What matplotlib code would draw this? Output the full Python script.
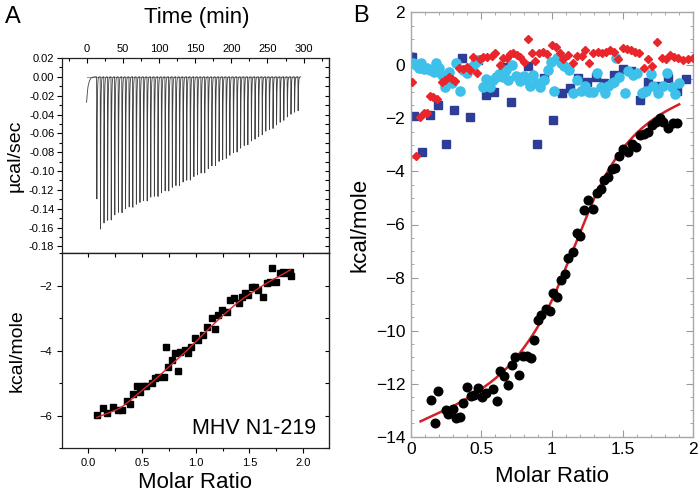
import numpy as np
import matplotlib
matplotlib.use("Agg")
import matplotlib.pyplot as plt
from matplotlib.ticker import MultipleLocator, FormatStrFormatter

plt.rcParams['font.family'] = ['Liberation Sans', 'DejaVu Sans']

# ---------------- Panel A (top): raw ITC trace ----------------
pre_t = [0, 1, 2, 4, 6, 8, 11, 13.5]
pre_y = [-0.027, -0.017, -0.010, -0.004, -0.0015, -0.0005, 0.0, 0.0]

inj_time = [13.8, 18.8, 23.7, 28.7, 33.7, 38.6, 43.6, 48.6, 53.5, 58.5, 63.5, 68.4,
            73.4, 78.4, 83.4, 88.3, 93.3, 98.3, 103.2, 108.2, 113.2, 118.1, 123.1,
            128.1, 133.0, 138.0, 143.0, 147.9, 152.9, 157.9, 162.9, 167.8, 172.8,
            177.8, 182.7, 187.7, 192.7, 197.6, 202.6, 207.6, 212.5, 217.5, 222.5,
            227.4, 232.4, 237.4, 242.4, 247.3, 252.3, 257.3, 262.2, 267.2, 272.2,
            277.1, 282.1, 287.1, 292.0]
inj_depth = [-0.137, -0.168, -0.164, -0.161, -0.158, -0.155, -0.152, -0.150, -0.148,
             -0.146, -0.144, -0.143, -0.141, -0.139, -0.137, -0.135, -0.134, -0.132,
             -0.130, -0.128, -0.126, -0.124, -0.122, -0.120, -0.118, -0.116, -0.114,
             -0.112, -0.110, -0.108, -0.106, -0.103, -0.100, -0.098, -0.095, -0.093,
             -0.090, -0.088, -0.085, -0.083, -0.080, -0.077, -0.075, -0.072, -0.070,
             -0.067, -0.064, -0.061, -0.059, -0.057, -0.054, -0.051, -0.048, -0.045,
             -0.042, -0.039, -0.036]

# ---------------- Panel A (bottom): integrated heats ----------------
a_ratio = [0.084, 0.14, 0.17, 0.23, 0.28, 0.31, 0.36, 0.39, 0.42, 0.45, 0.48, 0.51,
           0.54, 0.59, 0.62, 0.65, 0.70, 0.72, 0.74, 0.78, 0.81, 0.83, 0.85, 0.90,
           0.93, 0.96, 0.99, 1.02, 1.07, 1.10, 1.15, 1.18, 1.21, 1.24, 1.29, 1.32,
           1.36, 1.40, 1.43, 1.46, 1.49, 1.52, 1.55, 1.58, 1.63, 1.66, 1.69, 1.71,
           1.75, 1.78, 1.81, 1.84, 1.88, 1.89]
a_heat = [-5.97, -5.77, -5.92, -5.72, -5.82, -5.82, -5.56, -5.64, -5.33, -5.10, -5.26,
          -5.10, -5.10, -5.00, -4.85, -4.80, -4.80, -3.88, -4.49, -4.29, -4.08, -4.62,
          -4.03, -3.98, -4.08, -3.88, -3.62, -3.67, -3.52, -3.26, -3.01, -3.34, -2.91,
          -2.75, -2.80, -2.44, -2.39, -2.54, -2.34, -2.24, -2.29, -2.03, -2.03, -2.13,
          -2.34, -1.93, -1.88, -1.47, -1.88, -1.62, -1.57, -1.62, -1.57, -1.72]
a_fit_x = [0.08, 0.2, 0.3, 0.4, 0.5, 0.6, 0.7, 0.8, 0.9, 1.0, 1.1, 1.2, 1.3, 1.4,
           1.5, 1.6, 1.7, 1.8, 1.88]
a_fit_y = [-6.05, -5.9, -5.75, -5.5, -5.22, -4.95, -4.65, -4.35, -4.05, -3.72, -3.4,
           -3.08, -2.78, -2.5, -2.27, -2.05, -1.85, -1.67, -1.52]

# ---------------- Panel B ----------------
b_black_x = [0.144, 0.172, 0.196, 0.25, 0.267, 0.297, 0.32, 0.35, 0.373, 0.40, 0.427,
             0.45, 0.479, 0.502, 0.533, 0.585, 0.608, 0.632, 0.66, 0.686, 0.715, 0.738,
             0.769, 0.792, 0.821, 0.849, 0.875, 0.899, 0.922, 0.955, 0.986, 1.009,
             1.038, 1.064, 1.092, 1.116, 1.146, 1.175, 1.198, 1.229, 1.257, 1.288,
             1.316, 1.344, 1.370, 1.399, 1.422, 1.446, 1.476, 1.505, 1.535, 1.564,
             1.594, 1.623, 1.651, 1.677, 1.705, 1.733, 1.764, 1.788, 1.823, 1.854,
             1.887]
b_black_y = [-12.60, -13.48, -12.28, -13.0, -13.13, -12.94, -13.29, -13.25, -12.72,
             -12.12, -12.46, -12.43, -12.18, -12.50, -12.35, -12.22, -12.66, -11.53,
             -11.72, -12.06, -11.30, -10.99, -11.66, -10.96, -10.96, -11.02, -10.34,
             -9.61, -9.42, -9.17, -9.26, -8.60, -8.75, -8.10, -7.85, -7.28, -7.03,
             -6.31, -6.42, -5.44, -5.09, -5.40, -4.81, -4.65, -4.33, -4.21, -3.89,
             -3.87, -3.43, -3.16, -3.26, -2.95, -3.07, -2.63, -2.57, -2.51, -2.25,
             -2.13, -2.00, -2.13, -2.38, -2.19, -2.19]
b_fit_x = [0.07, 0.2, 0.3, 0.4, 0.5, 0.6, 0.7, 0.8, 0.9, 1.0, 1.1, 1.2, 1.3, 1.4,
           1.5, 1.6, 1.7, 1.8, 1.9]
b_fit_y = [-13.42, -13.1, -12.85, -12.55, -12.2, -11.8, -11.3, -10.65, -9.85, -8.85,
           -7.6, -6.3, -5.0, -3.95, -3.15, -2.55, -2.1, -1.75, -1.47]

b_red_x = [0.012, 0.038, 0.066, 0.097, 0.118, 0.137, 0.16, 0.184, 0.219, 0.243, 0.27,
           0.29, 0.31, 0.344, 0.368, 0.396, 0.42, 0.443, 0.467, 0.49, 0.514, 0.538,
           0.573, 0.597, 0.632, 0.656, 0.679, 0.703, 0.726, 0.75, 0.774, 0.804, 0.833,
           0.856, 0.88, 0.908, 0.934, 0.962, 0.998, 1.028, 1.057, 1.08, 1.116, 1.151,
           1.175, 1.21, 1.233, 1.264, 1.292, 1.323, 1.351, 1.38, 1.41, 1.441, 1.469,
           1.5, 1.528, 1.557, 1.587, 1.616, 1.651, 1.682, 1.71, 1.745, 1.776, 1.807,
           1.835, 1.863, 1.894, 1.929, 1.965, 1.995]
b_red_y = [-0.64, -3.43, -1.96, -1.81, -1.79, -1.15, -1.21, -1.28, -0.62, -0.55, -0.45,
           -0.52, -0.58, -0.11, -0.15, -0.05, -0.18, 0.33, -0.30, 0.23, 0.30, 0.33,
           0.35, 0.45, 0.01, 0.26, 0.29, 0.42, 0.48, 0.39, 0.30, 0.14, 0.98, 0.45,
           0.16, 0.45, 0.52, 0.42, 0.77, 0.71, 0.48, 0.23, 0.39, 0.08, 0.35, 0.35,
           0.58, 0.10, 0.45, 0.52, 0.45, 0.52, 0.58, 0.52, 0.23, 0.64, 0.60, 0.58,
           0.52, 0.45, -0.11, 0.23, -0.03, 0.89, 0.26, 0.24, 0.39, 0.30, 0.26, 0.20,
           0.24, 0.26]

b_cyan_x = [0.019, 0.038, 0.059, 0.075, 0.094, 0.118, 0.137, 0.165, 0.179, 0.203,
            0.219, 0.243, 0.27, 0.29, 0.321, 0.349, 0.373, 0.401, 0.432, 0.455, 0.479,
            0.509, 0.533, 0.561, 0.58, 0.604, 0.627, 0.651, 0.675, 0.691, 0.715, 0.745,
            0.774, 0.802, 0.821, 0.844, 0.868, 0.892, 0.915, 0.943, 0.974, 0.991, 1.017,
            1.038, 1.061, 1.085, 1.123, 1.151, 1.179, 1.203, 1.233, 1.264, 1.292, 1.316,
            1.344, 1.375, 1.399, 1.422, 1.439, 1.453, 1.476, 1.517, 1.54, 1.571, 1.599,
            1.634, 1.651, 1.665, 1.698, 1.717, 1.752, 1.783, 1.816, 1.847, 1.87, 1.901]
b_cyan_y = [0.10, 0.01, -0.09, 0.08, -0.15, -0.11, -0.18, -0.24, 0.08, -0.11, -0.37,
            -0.83, -0.24, -0.65, 0.10, -0.96, -0.18, -0.28, -0.05, 0.10, 0.20, -0.83,
            -0.52, -0.83, -0.55, -0.43, -0.33, -0.43, -0.18, -0.55, 0.01, -0.40, -0.59,
            -0.40, -0.55, -0.78, -0.37, -0.68, -0.81, -0.55, -0.18, 0.14, -0.96, 0.26,
            0.10, -0.03, -0.18, -1.06, -0.55, -0.96, -0.78, -0.99, -0.99, -0.30, -0.81,
            -1.06, -0.78, -0.68, -0.62, 0.26, -0.43, -1.06, -0.20, -0.37, -0.30, -1.06,
            -0.99, -0.96, -0.33, -0.78, -1.06, -0.78, -0.30, -0.81, -1.08, -0.68]

b_navy_x = [0.007, 0.026, 0.083, 0.137, 0.191, 0.25, 0.307, 0.366, 0.42, 0.479, 0.533,
            0.59, 0.656, 0.71, 0.774, 0.833, 0.892, 0.946, 1.009, 1.068, 1.127, 1.186,
            1.25, 1.311, 1.37, 1.439, 1.5, 1.559, 1.623, 1.682, 1.752, 1.823, 1.882,
            1.948]
b_navy_y = [0.33, -1.90, -3.26, -1.88, -1.50, -2.98, -1.69, 0.26, -1.94, 0.20, -1.12,
            -0.99, -0.05, -1.37, -0.43, -0.03, -2.95, -0.49, -2.07, -1.06, -0.87, -0.49,
            -0.62, -0.43, -0.68, -0.37, -0.15, -0.20, -1.31, -0.62, -0.78, -0.47, -0.96,
            -0.52]


def smooth_curve(xs, ys, n=12):
    """Catmull-Rom spline through the read-off curve points (drawing only)."""
    p = np.column_stack([xs, ys]).astype(float)
    p = np.vstack([2 * p[0] - p[1], p, 2 * p[-1] - p[-2]])
    out = []
    s = np.linspace(0, 1, n, endpoint=False)[:, None]
    for i in range(1, len(p) - 2):
        p0, p1, p2, p3 = p[i - 1], p[i], p[i + 1], p[i + 2]
        seg = 0.5 * ((2 * p1) + (-p0 + p2) * s + (2 * p0 - 5 * p1 + 4 * p2 - p3) * s ** 2
                     + (-p0 + 3 * p1 - 3 * p2 + p3) * s ** 3)
        out.append(seg)
    out.append(p[-2][None, :])
    out = np.vstack(out)
    return out[:, 0], out[:, 1]


# ---------------- Figure ----------------
W, H = 700, 493
fig = plt.figure(figsize=(W / 100, H / 100), dpi=100)

def box(l, t, r, b):
    return [l / W, 1 - b / H, (r - l) / W, (b - t) / H]

axA1 = fig.add_axes(box(62, 58, 329, 253))
axA2 = fig.add_axes(box(62, 253, 329, 448.3))
axB = fig.add_axes(box(410.7, 12.3, 693.3, 436.7))

# --- trace construction (peak shapes from the listed injections) ---
segs_t = [np.array(pre_t, float)]
segs_y = [np.array(pre_y, float)]
for k, (t0, d) in enumerate(zip(inj_time, inj_depth)):
    t_end = inj_time[k + 1] if k + 1 < len(inj_time) else t0 + 4.0
    tt = np.linspace(t0, t_end, 80, endpoint=False)
    dt = tt - t0
    rise = np.clip(dt / 0.35, 0, 1)
    decay = np.exp(-np.clip(dt - 0.35, 0, None) / 0.45)
    segs_t.append(tt)
    segs_y.append(d * rise * decay)
trace_t = np.concatenate(segs_t)
trace_y = np.concatenate(segs_y)

axA1.plot([0, 293], [0, 0], color='#9a9a9a', lw=0.8, zorder=1)
axA1.plot(trace_t, trace_y, color='#404040', lw=0.6, zorder=2)
axA1.set_xlim(-34, 335)
axA1.set_ylim(-0.187, 0.02)

axA1.xaxis.tick_top()
axA1.xaxis.set_major_locator(MultipleLocator(50))
axA1.xaxis.set_minor_locator(MultipleLocator(25))
axA1.yaxis.set_major_locator(MultipleLocator(0.02))
axA1.yaxis.set_minor_locator(MultipleLocator(0.01))
axA1.yaxis.set_major_formatter(FormatStrFormatter('%.2f'))
axA1.tick_params(axis='x', which='both', direction='in', top=True, bottom=False,
                 labeltop=True, labelbottom=False, labelsize=8, pad=3)
axA1.tick_params(axis='y', which='both', direction='out', left=True, right=False,
                 labelsize=8, pad=2)
axA1.tick_params(which='major', length=3.5, width=0.8)
axA1.tick_params(which='minor', length=2, width=0.8)
secA1 = axA1.secondary_yaxis('right')
secA1.yaxis.set_major_locator(MultipleLocator(0.01))
secA1.tick_params(direction='in', length=3, width=0.8, labelright=False)
axA1.set_ylabel('µcal/sec', fontsize=14, labelpad=4)
fig.text(197 / W, 1 - 18 / H, 'Time (min)', fontsize=16, ha='center', va='center')

fx, fy = smooth_curve(a_fit_x, a_fit_y)
axA2.plot(fx, fy, color='#d9262b', lw=1.0, zorder=3)
axA2.plot(a_ratio, a_heat, 's', color='black', ms=4.8, zorder=2)
axA2.set_xlim(-0.245, 2.24)
axA2.set_ylim(-7, -1)
axA2.xaxis.set_major_locator(MultipleLocator(0.5))
axA2.xaxis.set_minor_locator(MultipleLocator(0.25))
axA2.xaxis.set_major_formatter(FormatStrFormatter('%.1f'))
axA2.yaxis.set_major_locator(MultipleLocator(2))
axA2.yaxis.set_minor_locator(MultipleLocator(1))
axA2.tick_params(axis='both', which='both', direction='out', labelsize=8)
axA2.tick_params(which='major', length=3.5, width=0.8)
axA2.tick_params(which='minor', length=2, width=0.8)
secA2x = axA2.secondary_xaxis('top')
secA2x.xaxis.set_major_locator(MultipleLocator(0.25))
secA2x.tick_params(direction='in', length=3, width=0.8, labeltop=False)
secA2y = axA2.secondary_yaxis('right')
secA2y.yaxis.set_major_locator(MultipleLocator(1))
secA2y.tick_params(direction='in', length=3, width=0.8, labelright=False)
axA2.set_ylabel('kcal/mole', fontsize=14, labelpad=10)
axA2.set_xlabel('Molar Ratio', fontsize=16, labelpad=3)
axA2.text(0.95, 0.1, 'MHV N1-219', transform=axA2.transAxes, fontsize=15.5,
          ha='right', va='center')

for ax in (axA1, axA2):
    for s in ax.spines.values():
        s.set_linewidth(0.9)
        s.set_color('#222222')

# --- Panel B ---
axB.plot(b_red_x, b_red_y, 'D', color='#e8262b', ms=4.4, zorder=3)
axB.plot(b_navy_x, b_navy_y, 's', color='#2e3d96', ms=5.3, zorder=2)
axB.plot(b_cyan_x, b_cyan_y, 'o', color='#3dc0ea', ms=6.6, zorder=2)
bx, by = smooth_curve(b_fit_x, b_fit_y)
axB.plot(bx, by, color='#d42027', lw=1.8, zorder=4)
axB.plot(b_black_x, b_black_y, 'o', color='black', ms=6.2, zorder=5)
axB.set_xlim(0, 2)
axB.set_ylim(-14, 2)
axB.xaxis.set_major_locator(MultipleLocator(0.5))
axB.xaxis.set_minor_locator(MultipleLocator(0.1))
axB.yaxis.set_major_locator(MultipleLocator(2))
axB.yaxis.set_minor_locator(MultipleLocator(0.5))
axB.xaxis.set_major_formatter(matplotlib.ticker.FuncFormatter(lambda v, p: f'{v:g}'))
axB.tick_params(axis='both', which='both', direction='in', top=True, right=True,
                color='#9a9a9a', labelsize=12.5)
axB.tick_params(which='major', length=5, width=0.8, pad=4)
axB.tick_params(which='minor', length=2.5, width=0.6)
for s in axB.spines.values():
    s.set_color('#a8a8a8')
    s.set_linewidth(1.0)
axB.set_xlabel('Molar Ratio', fontsize=16, labelpad=6)
axB.set_ylabel('kcal/mole', fontsize=16, labelpad=4)

fig.text(13 / W, 1 - 17 / H, 'A', fontsize=17, ha='center', va='center')
fig.text(361 / W, 1 - 16 / H, 'B', fontsize=17, ha='center', va='center')

fig.savefig('out.png', dpi=100)
